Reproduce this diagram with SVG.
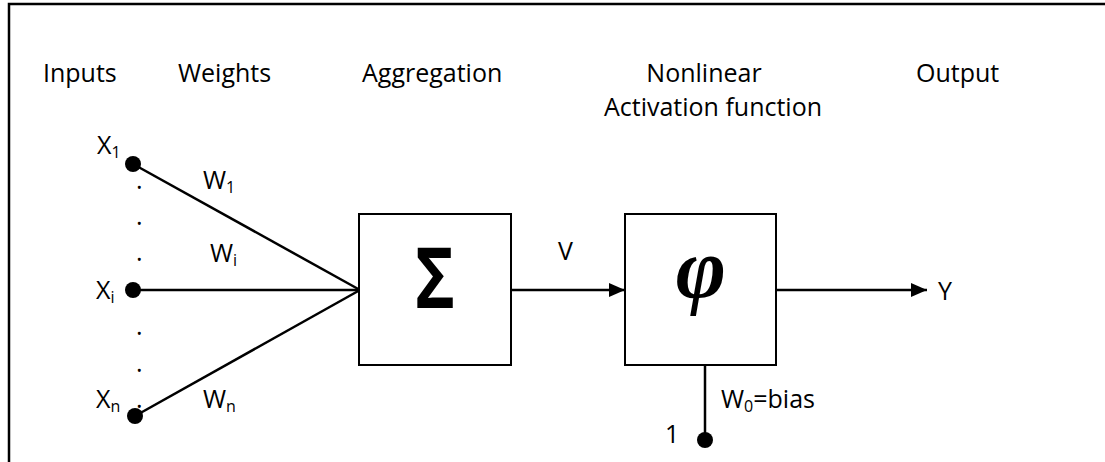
<svg xmlns="http://www.w3.org/2000/svg" width="1105" height="462" viewBox="0 0 1105 462">
  <style>
    text { font-family: "Open Sans", "Liberation Sans", sans-serif; font-size: 25px; fill: #000; }
    .sub { font-size: 16px; }
    .frame { stroke: #000; stroke-width: 2.5; fill: none; }
    .box { fill: #fff; stroke: #000; stroke-width: 2; }
    .wire { stroke: #000; stroke-width: 2.5; fill: none; }
    .dot { fill: #000; }
  </style>
  <defs>
    <marker id="arrow" markerWidth="16" markerHeight="14" refX="16" refY="7" orient="auto" markerUnits="userSpaceOnUse">
      <path d="M0,0 L16,7 L0,14 Z" fill="#000"/>
    </marker>
  </defs>

  <rect width="1105" height="462" fill="#fff"/>
  <!-- outer frame (top and left edges) -->
  <path class="frame" d="M9,462 V4 H1105"/>

  <!-- column headings -->
  <g id="headings">
    <text x="43" y="82">Inputs</text>
    <text x="178" y="82">Weights</text>
    <text x="362" y="82">Aggregation</text>
    <text x="704" y="82" text-anchor="middle">Nonlinear</text>
    <text x="713" y="116" text-anchor="middle">Activation function</text>
    <text x="916" y="82">Output</text>
  </g>

  <!-- connectors -->
  <g id="connectors">
    <line class="wire" x1="133" y1="164" x2="360" y2="290"/>
    <line class="wire" x1="133" y1="290" x2="360" y2="290"/>
    <line class="wire" x1="135" y1="416" x2="360" y2="290"/>
    <line class="wire" x1="511" y1="290" x2="625" y2="290" marker-end="url(#arrow)"/>
    <line class="wire" x1="776" y1="290" x2="927" y2="290" marker-end="url(#arrow)"/>
    <line class="wire" x1="705" y1="365" x2="705" y2="440"/>
  </g>

  <!-- inputs -->
  <g id="input-x1">
    <circle class="dot" cx="133" cy="164" r="8"/>
    <text x="97" y="154">X<tspan class="sub" dy="4">1</tspan></text>
  </g>
  <g id="input-xi">
    <circle class="dot" cx="133" cy="290" r="8"/>
    <text x="96" y="299">X<tspan class="sub" dy="4">i</tspan></text>
  </g>
  <g id="input-xn">
    <circle class="dot" cx="135" cy="416" r="8"/>
    <text x="96" y="408">X<tspan class="sub" dy="4">n</tspan></text>
  </g>

  <!-- ellipsis dots between inputs -->
  <g id="ellipsis">
    <text x="136" y="189">.</text>
    <text x="136" y="225">.</text>
    <text x="136" y="261">.</text>
    <text x="136" y="335">.</text>
    <text x="136" y="372">.</text>
    <text x="136" y="408">.</text>
  </g>

  <!-- weight labels -->
  <g id="weights">
    <text x="203" y="189">W<tspan class="sub" dy="4">1</tspan></text>
    <text x="210" y="262">W<tspan class="sub" dy="4">i</tspan></text>
    <text x="203" y="408">W<tspan class="sub" dy="4">n</tspan></text>
  </g>

  <!-- summation node -->
  <g id="sum-node">
    <rect class="box" x="359" y="214" width="152" height="151"/>
    <text transform="translate(435,308) scale(0.8,1)" text-anchor="middle" style="font-family: 'Open Sans', 'DejaVu Sans', sans-serif; font-size: 85px; font-weight: bold;">Σ</text>
  </g>

  <text x="558" y="260">V</text>

  <!-- activation node -->
  <g id="activation-node">
    <rect class="box" x="625" y="214" width="151" height="151"/>
    <text x="701" y="297" text-anchor="middle" style="font-family: 'Liberation Serif', 'DejaVu Serif', serif; font-size: 86px; font-weight: bold; font-style: italic;">φ</text>
  </g>

  <!-- bias input -->
  <g id="bias">
    <circle class="dot" cx="705" cy="440" r="8"/>
    <text x="665" y="443">1</text>
    <text x="721" y="408">W<tspan class="sub" dy="4">0</tspan><tspan dy="-4">=bias</tspan></text>
  </g>

  <!-- output -->
  <g id="output">
    <text x="938" y="300">Y</text>
  </g>
</svg>
